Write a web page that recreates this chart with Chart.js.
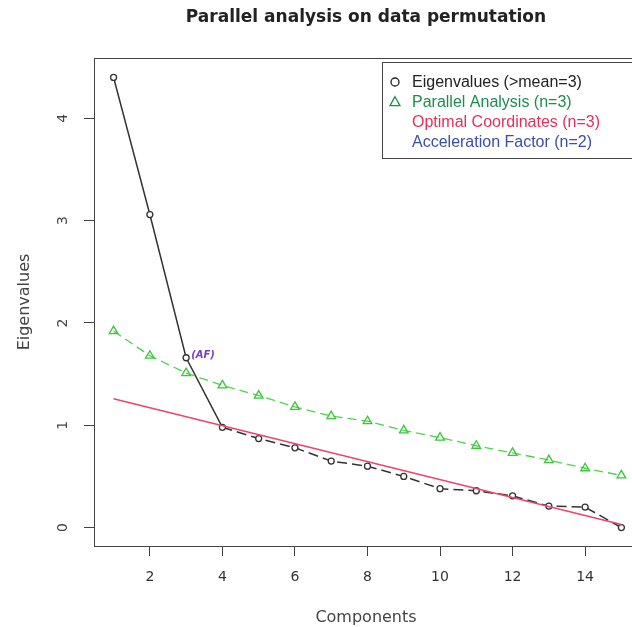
<!DOCTYPE html>
<html>
<head>
<meta charset="utf-8">
<script src="https://cdn.jsdelivr.net/npm/chart.js@4"></script>
<style>
    html, body { margin: 0; padding: 0; background: #fff; overflow: hidden; }
    #wrap { width: 648px; height: 627px; position: relative; }
</style>
</head>
<body>
<div id="wrap"><canvas id="scree"></canvas></div>
<script>
/* -------- data -------- */
const components = [1, 2, 3, 4, 5, 6, 7, 8, 9, 10, 11, 12, 13, 14, 15];
const eigenvalues = [4.40, 3.06, 1.66, 0.98, 0.87, 0.78, 0.65, 0.60, 0.50, 0.38, 0.36, 0.31, 0.21, 0.20, 0.00];
const parallel = [1.92, 1.68, 1.51, 1.39, 1.29, 1.18, 1.09, 1.04, 0.95, 0.88, 0.80, 0.73, 0.66, 0.58, 0.51];
const ocX = [1, 15];
const ocY = [1.26, 0.03];
const xTicks = [2, 4, 6, 8, 10, 12, 14];
const yTicks = [0, 1, 2, 3, 4];
const legendItems = [
    { text: 'Eigenvalues (>mean=3)', color: '#222222', symbol: 'circle' },
    { text: 'Parallel Analysis (n=3)', color: '#1e8c4e', symbol: 'triangle' },
    { text: 'Optimal Coordinates (n=3)', color: '#e0305c', symbol: null },
    { text: 'Acceleration Factor (n=2)', color: '#3c4fa8', symbol: null },
];

const toPoints = (xs, ys) => xs.map((x, i) => ({ x: x, y: ys[i] }));

// box, title, axis titles, rotated y labels, AF note and legend
const decor = {
    id: 'decor',
    afterDraw(chart) {
        const ctx = chart.ctx;
        const a = chart.chartArea;
        const xs = chart.scales.x;
        const ys = chart.scales.y;
        ctx.save();
        ctx.strokeStyle = '#444';
        ctx.lineWidth = 1;
        ctx.beginPath();
        ctx.moveTo(a.left, a.top + 0.5);
        ctx.lineTo(a.right, a.top + 0.5);
        ctx.lineTo(a.right, a.bottom);
        ctx.stroke();

        ctx.fillStyle = '#222';
        ctx.textAlign = 'center';
        ctx.textBaseline = 'middle';
        ctx.font = 'bold 17px "DejaVu Sans"';
        ctx.fillText('Parallel analysis on data permutation', 366, 18);

        ctx.fillStyle = '#444';
        ctx.font = '16px "DejaVu Sans"';
        ctx.fillText('Components', 366, 618);

        ctx.save();
        ctx.translate(25, (a.top + a.bottom) / 2);
        ctx.rotate(-Math.PI / 2);
        ctx.fillText('Eigenvalues', 0, 0);
        ctx.restore();

        ctx.font = '14px "DejaVu Sans"';
        yTicks.forEach((v) => {
            ctx.save();
            ctx.translate(63, ys.getPixelForValue(v));
            ctx.rotate(-Math.PI / 2);
            ctx.fillText(String(v), 0, 0);
            ctx.restore();
        });

        // acceleration factor note beside component 3
        ctx.fillStyle = '#7a3fc4';
        ctx.textAlign = 'left';
        ctx.font = 'italic bold 10px "DejaVu Sans"';
        ctx.fillText('(AF)', xs.getPixelForValue(components[2]) + 5, ys.getPixelForValue(eigenvalues[2]) - 2);

        // legend
        ctx.fillStyle = '#fff';
        ctx.fillRect(382, 62, 270, 97);
        ctx.strokeStyle = '#444';
        ctx.strokeRect(382.5, 62.5, 270, 96);
        ctx.font = '16px "Liberation Sans"';
        legendItems.forEach((it, i) => {
            const y = 83 + i * 19.7;
            ctx.fillStyle = it.color;
            ctx.fillText(it.text, 412, y);
            ctx.strokeStyle = it.color;
            ctx.lineWidth = 1.3;
            if (it.symbol === 'circle') {
                ctx.beginPath();
                ctx.arc(395, y - 1, 4, 0, Math.PI * 2);
                ctx.stroke();
            } else if (it.symbol === 'triangle') {
                ctx.beginPath();
                ctx.moveTo(395, y - 6);
                ctx.lineTo(400, y + 3);
                ctx.lineTo(390, y + 3);
                ctx.closePath();
                ctx.stroke();
            }
        });
        ctx.restore();
    },
};

new Chart(document.getElementById('scree'), {
    type: 'scatter',
    data: {
        datasets: [
            {
                label: 'Optimal Coordinates',
                data: toPoints(ocX, ocY),
                showLine: true,
                borderColor: '#e8476b',
                borderWidth: 1.5,
                pointRadius: 0,
            },
            {
                label: 'Parallel Analysis',
                data: toPoints(components, parallel),
                showLine: true,
                borderColor: '#4fd24f',
                borderWidth: 1.3,
                borderDash: [9, 5],
                pointStyle: 'triangle',
                pointRadius: 5,
                pointBorderWidth: 1.3,
                pointBorderColor: '#3cc63c',
                pointBackgroundColor: 'rgba(255,255,255,0)',
            },
            {
                label: 'Eigenvalues',
                data: toPoints(components, eigenvalues),
                showLine: true,
                borderColor: '#333',
                borderWidth: 1.5,
                segment: {
                    borderDash: (c) => (c.p0.parsed.x >= 4 ? [10, 5] : undefined),
                },
                pointStyle: 'circle',
                pointRadius: 3,
                pointBorderWidth: 1.3,
                pointBorderColor: '#333',
                pointBackgroundColor: '#fff',
            },
        ],
    },
    options: {
        responsive: true,
        maintainAspectRatio: false,
        animation: false,
        layout: { padding: { top: 58, left: 0, right: 0, bottom: 0 } },
        plugins: {
            legend: { display: false },
            tooltip: { enabled: false },
        },
        scales: {
            x: {
                type: 'linear',
                min: 0.46,
                max: 15.56,
                afterBuildTicks: (s) => { s.ticks = xTicks.map((v) => ({ value: v })); },
                afterFit: (s) => { s.height = 81; },
                border: { color: '#444', width: 1 },
                grid: { drawOnChartArea: false, drawTicks: true, tickLength: 10, color: '#444' },
                ticks: {
                    color: '#333',
                    padding: 13,
                    maxRotation: 0,
                    font: { family: 'DejaVu Sans', size: 14 },
                },
            },
            y: {
                type: 'linear',
                min: -0.18,
                max: 4.59,
                afterBuildTicks: (s) => { s.ticks = yTicks.map((v) => ({ value: v })); },
                afterFit: (s) => { s.width = 94; },
                border: { color: '#444', width: 1 },
                grid: { drawOnChartArea: false, drawTicks: true, tickLength: 10, color: '#444' },
                ticks: { display: false },
            },
        },
    },
    plugins: [decor],
});
</script>
</body>
</html>
